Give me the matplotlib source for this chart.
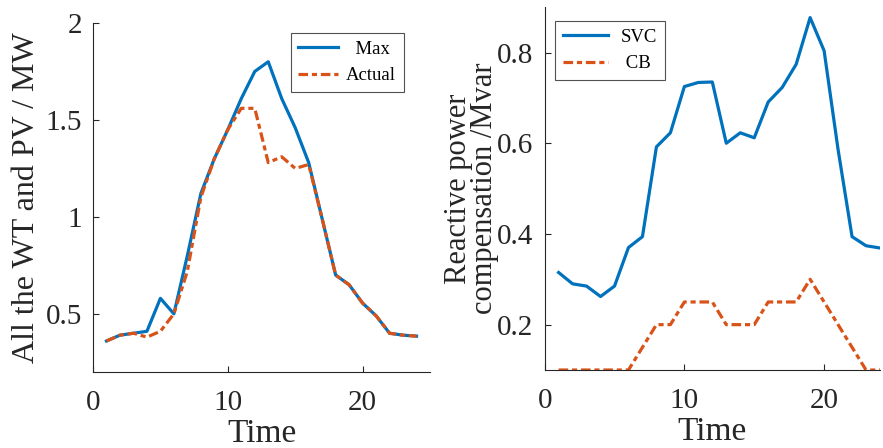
import matplotlib
matplotlib.use("Agg")
import matplotlib.pyplot as plt

# ====================== DATA ======================
hours = list(range(1, 25))

pmax = [0.36, 0.39, 0.40, 0.41, 0.58, 0.50, 0.80, 1.12, 1.30, 1.45, 1.61, 1.75,
        1.80, 1.61, 1.46, 1.28, 0.99, 0.70, 0.65, 0.555, 0.49, 0.40, 0.39, 0.385]
pactual = [0.36, 0.39, 0.40, 0.38, 0.41, 0.50, 0.72, 1.10, 1.30, 1.45, 1.56, 1.56,
           1.28, 1.31, 1.25, 1.27, 0.99, 0.70, 0.65, 0.555, 0.49, 0.40, 0.39, 0.385]

svc = [0.315, 0.29, 0.285, 0.262, 0.285, 0.37, 0.394, 0.592, 0.623, 0.725, 0.734, 0.735,
       0.60, 0.623, 0.612, 0.691, 0.723, 0.774, 0.877, 0.804, 0.586, 0.394, 0.374, 0.369]
cb = [0.1, 0.1, 0.1, 0.1, 0.1, 0.1, 0.15, 0.2, 0.2, 0.25, 0.25, 0.25,
      0.2, 0.2, 0.2, 0.25, 0.25, 0.25, 0.3, 0.25, 0.2, 0.15, 0.1, 0.1]

left_yticks = [0.5, 1, 1.5, 2]
right_yticks = [0.2, 0.4, 0.6, 0.8]
xticks = [0, 10, 20]
# ==================================================

BLUE = "#0072BD"
ORANGE = "#D95319"
DARK = "#262626"

plt.rcParams["font.family"] = ["Liberation Serif", "DejaVu Serif"]

fig = plt.figure(figsize=(8.83, 4.48), dpi=100)
ax1 = fig.add_axes([0.1053, 0.1696, 0.3817, 0.7791])
ax2 = fig.add_axes([0.6168, 0.1741, 0.3798, 0.8099])

# long dash, short dash (matlab-like '-.')
DASHDOT = (0, (3.0, 1.2, 1.6, 1.2))


def style(ax):
    for side in ("top", "right"):
        ax.spines[side].set_visible(False)
    for side in ("left", "bottom"):
        ax.spines[side].set_color(DARK)
        ax.spines[side].set_linewidth(0.8)
    ax.tick_params(direction="in", length=4, width=0.8, colors=DARK, labelsize=21)
    ax.tick_params(axis="x", pad=13)
    ax.tick_params(axis="y", pad=8)
    ax.set_xticks(xticks)
    ax.set_xlabel("Time", fontsize=24, color=DARK, labelpad=2)


def frame(leg):
    leg.get_frame().set_edgecolor(DARK)
    leg.get_frame().set_linewidth(0.8)


ax1.plot(hours, pmax, color=BLUE, lw=2.3, label="  Max")
ax1.plot(hours, pactual, color=ORANGE, lw=2.3, linestyle=DASHDOT, label="Actual")
ax1.set_xlim(0, 25)
ax1.set_ylim(0.2, 2)
ax1.set_yticks(left_yticks)
ax1.set_yticklabels(["0.5", "1", "1.5", "2"])
style(ax1)
ax1.set_ylabel("All the WT and PV / MW", fontsize=23, color=DARK, labelpad=3)
leg1 = ax1.legend(loc="upper left", bbox_to_anchor=(0.5875, 0.9713), fontsize=13.5,
                  frameon=True, fancybox=False, borderaxespad=0, handlelength=2.1,
                  borderpad=0.4, labelspacing=0.5, handletextpad=0.45)
frame(leg1)

ax2.plot(hours, svc, color=BLUE, lw=2.3, label="SVC")
ax2.plot(hours, cb, color=ORANGE, lw=2.3, linestyle=DASHDOT, label=" CB")
ax2.set_xlim(0, 24)
ax2.set_ylim(0.1, 0.9)
ax2.set_yticks(right_yticks)
style(ax2)
ax2.set_ylabel("Reactive power\ncompensation /Mvar", fontsize=22, color=DARK,
               labelpad=-1, linespacing=0.85)
leg2 = ax2.legend(loc="upper left", bbox_to_anchor=(0.031, 0.9614), fontsize=13.5,
                  frameon=True, fancybox=False, borderaxespad=0, handlelength=2.4,
                  borderpad=0.4, labelspacing=0.5, handletextpad=0.7)
frame(leg2)

fig.savefig("out.png", dpi=100)
